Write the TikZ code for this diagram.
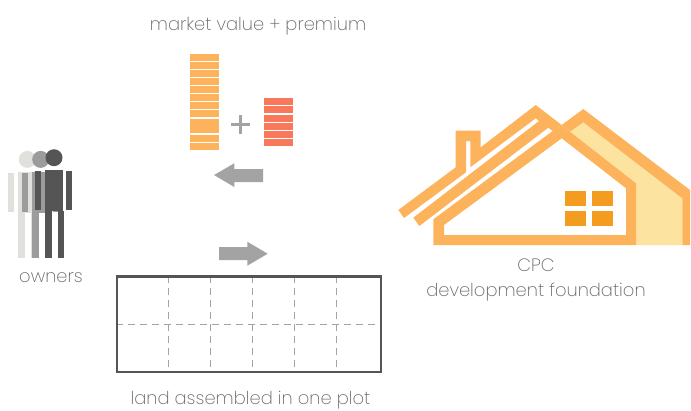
\documentclass[tikz,border=0pt]{standalone}
\usepackage{fontspec}
\setmainfont{Poppins ExtraLight}
\definecolor{barorange}{HTML}{FDB35C}
\definecolor{barred}{HTML}{F7785B}
\definecolor{housecream}{HTML}{FDE3A0}
\definecolor{windoworange}{HTML}{F39C1F}
\definecolor{arrowgray}{HTML}{A3A3A3}
\definecolor{plotgray}{HTML}{555555}
\definecolor{labelgray}{HTML}{666666}
\tikzset{
  caption/.style={text=labelgray,font=\fontsize{17.9}{21}\selectfont,inner sep=0pt,align=center},
  plotdash/.style={arrowgray,line width=.8pt,dash pattern=on 7pt off 5pt},
}
\begin{document}
\begin{tikzpicture}[x=1pt,y=-1pt]
\useasboundingbox (0,0) rectangle (691,410);
% owners
\foreach \cx/\cy/\col in {27.3/1.7/{E0E1DC},40.7/1.7/{9C9C9C},54/0/{555555}}{
\definecolor{figcol}{HTML}{\col}
\fill[figcol] (\cx,157.7+\cy) circle (8.5);
\fill[figcol] (\cx-19,171+\cy) rectangle (\cx-13,210+\cy);
\fill[figcol] (\cx+12,171+\cy) rectangle (\cx+18,210+\cy);
\fill[figcol] (\cx-9,170+\cy) rectangle (\cx+9,211+\cy);
\fill[figcol] (\cx-9,211+\cy) rectangle (\cx-2,258);
\fill[figcol] (\cx+4,211+\cy) rectangle (\cx+10,258);
}
\node[caption] (owners) at (51,277.5) {owners};
% value bars
\foreach \ya/\yb in {54/61,62/69,70/77,78/85,86/93,94/101,102/109,110/117,119/133,135/142,143/150}
\fill[barorange] (190,\ya) rectangle (219,\yb);
\foreach \ya/\yb in {98/105,106/113,115/122,123/130,131/138,139/146}
\fill[barred] (264,\ya) rectangle (293,\yb);
\fill[arrowgray] (231,122.8) rectangle (250,125.8);
\fill[arrowgray] (238.8,115) rectangle (241.8,134);
\node[caption] (value) at (258,26) {market value + premium};
% arrows
\fill[arrowgray] (214,175)--(234.3,163.3)--(234.3,169)--(263,169)--(263,182)--(234.3,182)--(234.3,187)--cycle;
\fill[arrowgray] (267.7,253.7)--(247.3,241.7)--(247.3,247)--(219,247)--(219,260)--(247.3,260)--(247.3,265.7)--cycle;
% plot
\foreach \x in {168,210,252,294,336}
\draw[plotdash] (\x,276)--(\x,372);
\draw[plotdash] (116,324)--(381,324);
\draw[plotgray,line width=2.5pt] (117,276.5) rectangle (381,372);
\node[caption] (plot) at (250.5,400) {land assembled in one plot};
% house
\fill[housecream] (570,131.7)--(583.3,122.3)--(682.3,198.3)--(682.3,245)--(636,245)--(636,183.3)--cycle;
\fill[barorange] (561.7,125)--(583.3,109)--(690,190)--(690,245)--(682.3,245)--(682.3,198.3)--(583.3,122.3)--(570,131.7)--cycle;
\fill[barorange,even odd rule] (433.3,245)--(433.3,219.3)--(552.7,131)--(561.7,125)--(570,131.7)--(636,183.3)--(636,245)--cycle
(444,235)--(444,225)--(561.7,138.3)--(626,188.3)--(626,235)--cycle;
\fill[barorange] (398.3,210)--(455.7,167.3)--(455.7,130.7)--(480.7,130.7)--(480.7,147.3)--(535.7,105)--(561.7,125)--(552.7,131)--(548.3,127.7)--(419.3,226)--(413.3,217.7)--(539,121)--(535.7,118.3)--(470.3,167.3)--(470.3,141)--(466,141)--(466,172.3)--(404,218)--cycle;
\foreach \x in {565,592}
\foreach \y in {191,211}
\fill[windoworange] (\x,\y) rectangle (\x+21,\y+15);
\node[caption] (cpc) at (536,265) {CPC};
\node[caption] (foundation) at (536,292.5) {development foundation};
\end{tikzpicture}
\end{document}
